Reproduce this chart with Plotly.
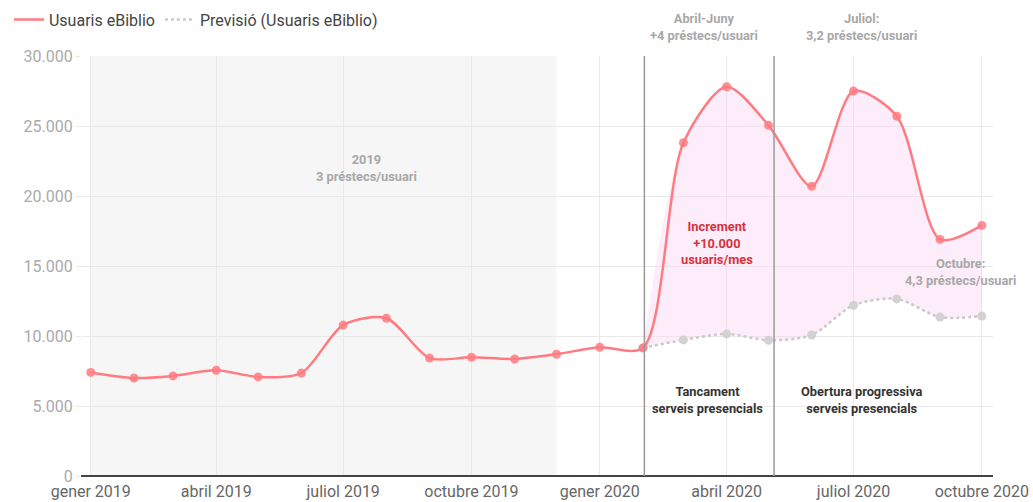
import plotly.graph_objects as go

# ---- data ----
months = ["2019-01-01", "2019-02-01", "2019-03-01", "2019-04-01", "2019-05-01", "2019-06-01",
          "2019-07-01", "2019-08-01", "2019-09-01", "2019-10-01", "2019-11-01", "2019-12-01",
          "2020-01-01", "2020-02-01", "2020-03-01", "2020-04-01", "2020-05-01", "2020-06-01",
          "2020-07-01", "2020-08-01", "2020-09-01", "2020-10-01"]
usuaris = [7400, 7000, 7150, 7550, 7080, 7350, 10780, 11270, 8420, 8480, 8360, 8700,
           9200, 9150, 23800, 27800, 25050, 20700, 27500, 25700, 16900, 17900]

forecast_months = ["2020-02-01", "2020-03-01", "2020-04-01", "2020-05-01", "2020-06-01",
                   "2020-07-01", "2020-08-01", "2020-09-01", "2020-10-01"]
previsio = [9150, 9720, 10150, 9700, 10070, 12200, 12650, 11350, 11420]

x_tickvals = ["2019-01-01", "2019-04-01", "2019-07-01", "2019-10-01",
              "2020-01-01", "2020-04-01", "2020-07-01", "2020-10-01"]
x_ticktext = ["gener 2019", "abril 2019", "juliol 2019", "octubre 2019",
              "gener 2020", "abril 2020", "juliol 2020", "octubre 2020"]
y_tickvals = [0, 5000, 10000, 15000, 20000, 25000, 30000]
y_ticktext = ["0", "5.000", "10.000", "15.000", "20.000", "25.000", "30.000"]

RED = "#ff7b81"
GRAY = "#c9c9c9"

fig = go.Figure()

# forecast (base for fill)
fig.add_trace(go.Scatter(
    x=forecast_months, y=previsio, mode="lines+markers", showlegend=False,
    line=dict(color=GRAY, width=2.5, dash="dot", shape="spline", smoothing=0.8),
    marker=dict(color="#d2d2d2", size=9)))

# fill between forecast and actual for 2020
fill_vals = usuaris[13:]
fig.add_trace(go.Scatter(
    x=forecast_months, y=fill_vals, mode="lines", showlegend=False, hoverinfo="skip",
    line=dict(width=0, shape="spline", smoothing=0.8), fill="tonexty",
    fillcolor="rgba(250,215,245,0.45)"))

# actual
fig.add_trace(go.Scatter(
    x=months, y=usuaris, mode="lines+markers", showlegend=False,
    line=dict(color=RED, width=2.5, shape="spline", smoothing=0.8),
    marker=dict(color="rgba(255,123,129,0.85)", size=9)))

# legend-only entries (line samples without markers)
fig.add_trace(go.Scatter(x=[None], y=[None], mode="lines", name="Usuaris eBiblio",
                         line=dict(color=RED, width=2.5), legendrank=1))
fig.add_trace(go.Scatter(x=[None], y=[None], mode="lines", name="Previsió (Usuaris eBiblio)",
                         line=dict(color=GRAY, width=2.5, dash="dot"), legendrank=2))

# 2019 shaded region
fig.add_shape(type="rect", x0="2019-01-01", x1="2019-12-01", y0=0, y1=30000,
              xref="x", yref="y", fillcolor="#f6f6f6", line=dict(width=0), layer="below")
# vertical event lines
for xv in ["2020-02-02", "2020-05-05"]:
    fig.add_shape(type="line", x0=xv, x1=xv, y0=0, y1=30000, xref="x", yref="y",
                  line=dict(color="#9a9a9a", width=1.5))

AS = 12.8
ann_gray = dict(family="Roboto", size=AS, color="#a8a8a8")
annots = [
    ("2019-07-18", 22000, "y", "<b>2019<br>3 préstecs/usuari</b>", ann_gray),
    ("2020-03-16", 1.069, "paper", "<b>Abril-Juny<br>+4 préstecs/usuari</b>", ann_gray),
    ("2020-07-07", 1.069, "paper", "<b>Juliol:<br>3,2 préstecs/usuari</b>", ann_gray),
    ("2020-03-25", 16650, "y", "<b>Increment<br>+10.000<br>usuaris/mes</b>",
     dict(family="Roboto", size=AS, color="#d4333f")),
    ("2020-09-16", 14550, "y", "<b>Octubre:<br>4,3 préstecs/usuari</b>", ann_gray),
    ("2020-03-18", 5430, "y", "<b>Tancament<br>serveis presencials</b>",
     dict(family="Roboto", size=AS, color="#333333")),
    ("2020-07-07", 5430, "y", "<b>Obertura progressiva<br>serveis presencials</b>",
     dict(family="Roboto", size=AS, color="#333333")),
]
for x, y, yr, t, f in annots:
    fig.add_annotation(x=x, y=y, text=t, showarrow=False, font=f, xref="x", yref=yr,
                       xanchor="center", yanchor="middle")

fig.update_layout(
    width=1033, height=502,
    margin=dict(l=81, r=40, t=56, b=26, autoexpand=False),
    paper_bgcolor="white", plot_bgcolor="white",
    font=dict(family="Roboto", size=16, color="#555555"),
    showlegend=True,
    legend=dict(orientation="h", xref="container", yref="container", x=0.0087, y=0.995,
                xanchor="left", yanchor="top", font=dict(size=16, color="#444444"),
                bgcolor="rgba(0,0,0,0)", traceorder="normal", itemwidth=30),
    hovermode=False,
)
fig.update_xaxes(
    type="date", range=["2018-12-25", "2020-10-09"],
    tickvals=x_tickvals, ticktext=x_ticktext, tickfont=dict(size=16, color="#666666"),
    showgrid=True, gridcolor="#e9e9e9", gridwidth=1, zeroline=False,
    showline=False, ticks="", ticklabelstandoff=4)
fig.update_yaxes(
    range=[0, 30000], tickvals=y_tickvals, ticktext=y_ticktext,
    tickfont=dict(size=16, color="#aaaaaa"),
    showgrid=True, gridcolor="#e9e9e9", gridwidth=1,
    zeroline=True, zerolinecolor="#444444", zerolinewidth=1.5,
    showline=False, ticks="outside", ticklen=4, tickcolor="#e9e9e9")

# remove the default 8px page margin so the figure fills the window exactly
fig.write_html("out.html", config={"displayModeBar": False},
               post_script="document.body.style.margin='0';")
